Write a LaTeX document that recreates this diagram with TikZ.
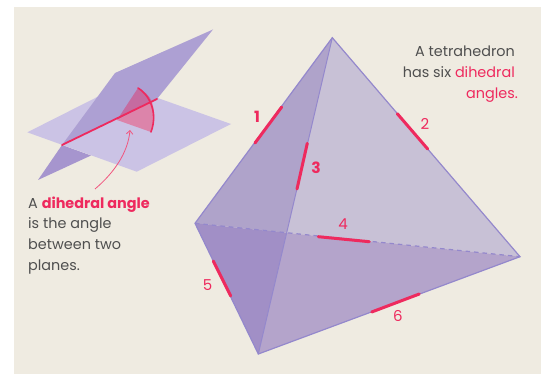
\documentclass[tikz,border=0pt]{standalone}
\usepackage{fontspec}
\setmainfont{Poppins}
\usetikzlibrary{arrows.meta}
\definecolor{bg}{HTML}{EFEBE1}
\definecolor{pinkred}{HTML}{EE2A5E}
\definecolor{txt}{HTML}{4F4F4F}
\definecolor{edgecol}{HTML}{9488CC}
\tikzset{
  x=1pt,y=-1pt,
  lab/.style={font=\fontsize{15}{16}\selectfont,text=pinkred,inner sep=0pt},
  labb/.style={font=\fontsize{15.5}{16}\selectfont\bfseries,text=pinkred,inner sep=0pt},
  txtl/.style={font=\fontsize{14.4}{15}\selectfont,text=txt,inner sep=0pt,anchor=base west},
  txtr/.style={font=\fontsize{14.4}{15}\selectfont,text=txt,inner sep=0pt,anchor=base east},
  hl/.style={line width=3pt,draw=pinkred,line cap=round},
  edge/.style={line width=1.2pt,draw=edgecol,line cap=round}
}
\begin{document}
\begin{tikzpicture}
\useasboundingbox (0,0) rectangle (543,374);
\fill[white] (0,0) rectangle (543,374);
\fill[bg] (14,7) rectangle (541,374);
% small planes
\coordinate (hl) at (27.3,132.3);
\coordinate (hb) at (136.7,171.7);
\coordinate (hr) at (231,124);
\coordinate (ht) at (121,85);
\coordinate (vb) at (38,180);
\coordinate (vt) at (115,73);
\coordinate (vr) at (213,29.5);
\coordinate (ls) at (62,145);
\coordinate (le) at (157,99);
\coordinate (lo) at (91,155.5);
\coordinate (wc) at (117,120);
\coordinate (wt) at (138,88);
\coordinate (wb) at (151,132);
\coordinate (wm) at (152,102);
\fill[fill={rgb,255:red,166;green,149;blue,206}] (vb) -- (ls) -- (lo) -- cycle;
\fill[fill={rgb,255:red,203;green,195;blue,229}] (hl) -- (ht) -- (hr) -- (hb) -- cycle;
\fill[fill={rgb,255:red,173;green,160;blue,211}] (ls) -- (vt) -- (vr) -- (le) -- cycle;
% wedge
\fill[fill={rgb,255:red,197;green,107;blue,160}] (wc) -- (wt) .. controls (144,91) and (150,96) .. (wm) -- cycle;
\fill[fill={rgb,255:red,220;green,132;blue,170}] (wc) -- (wm) .. controls (155,112) and (155,122) .. (wb) -- cycle;
\draw[line width=1.6pt,draw=pinkred,line cap=round] (wt) .. controls (147,93) and (159,110) .. (wb);
\draw[line width=1.8pt,draw=pinkred,line cap=round] (ls) -- (le);
% arrow
\coordinate (as) at (95,189);
\coordinate (ae) at (130,130);
\draw[line width=0.8pt,draw=pinkred!80,-{Straight Barb[length=3.5pt,width=6.5pt]}] (as) .. controls (115,172) and (128,152) .. (ae);
% text left
\node[txtl] (t1) at (28,208) {A \textcolor{pinkred}{\textbf{dihedral angle}}};
\node[txtl] (t2) at (28,228.5) {is the angle};
\node[txtl] (t3) at (28,249) {between two};
\node[txtl] (t4) at (28,270) {planes.};
% tetrahedron
\coordinate (A) at (332.3,37.7);
\coordinate (L) at (195,223.3);
\coordinate (B) at (258.3,354);
\coordinate (R) at (520,256.7);
\coordinate (X) at (286.6,232.8);
\fill[fill={rgb,255:red,175;green,163;blue,202}] (A) -- (L) -- (X) -- cycle;
\fill[fill={rgb,255:red,200;green,193;blue,214}] (A) -- (X) -- (R) -- cycle;
\fill[fill={rgb,255:red,161;green,143;blue,198}] (L) -- (B) -- (X) -- cycle;
\fill[fill={rgb,255:red,180;green,164;blue,203}] (X) -- (B) -- (R) -- cycle;
\draw[edge] (A) -- (L) -- (B) -- (R) -- cycle;
\draw[edge,line width=1pt] (A) -- (B);
\draw[edge,line cap=butt,dash pattern=on 4.5pt off 4pt] (L) -- (R);
% red marks
\coordinate (a1) at (255,143); \coordinate (b1) at (281.7,107);
\coordinate (a2) at (397.3,113.7); \coordinate (b2) at (427.7,149);
\coordinate (a3) at (307.3,143.3); \coordinate (b3) at (297,189);
\coordinate (a4) at (318.3,236.7); \coordinate (b4) at (369.3,241.7);
\coordinate (a5) at (213.3,261); \coordinate (b5) at (230.7,296);
\coordinate (a6) at (371.7,312); \coordinate (b6) at (419.3,294);
\draw[hl] (a1) -- (b1);
\draw[hl] (a2) -- (b2);
\draw[hl] (a3) -- (b3);
\draw[hl] (a4) -- (b4);
\draw[hl] (a5) -- (b5);
\draw[hl] (a6) -- (b6);
\node[labb] (n1) at (257,116.5) {1};
\node[lab] (n2) at (425,124) {2};
\node[labb] (n3) at (316,168) {3};
\node[lab] (n4) at (343,224) {4};
\node[lab] (n5) at (207.5,285) {5};
\node[lab] (n6) at (398,316) {6};
% text right
\node[txtr] (r1) at (515,57) {A tetrahedron};
\node[txtr] (r2) at (515,78) {has six \textcolor{pinkred}{dihedral}};
\node[txtr] (r3) at (518,98.5) {\textcolor{pinkred}{angles.}};
\end{tikzpicture}
\end{document}
